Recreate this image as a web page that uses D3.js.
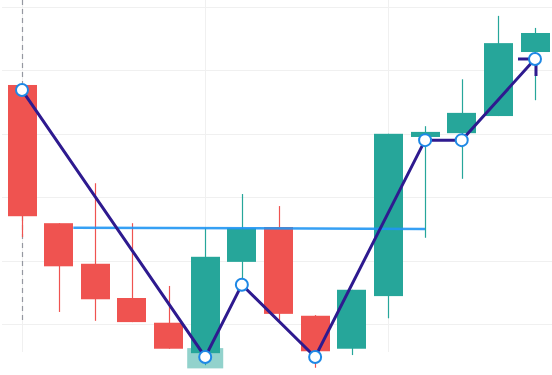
<!DOCTYPE html>
<html>
<head>
<meta charset="utf-8">
<script src="https://cdn.jsdelivr.net/npm/d3@7"></script>
<style>
  html, body { margin: 0; padding: 0; background: #fff; }
  svg { display: block; }
</style>
</head>
<body>
<div id="chart"></div>
<script>
// candles: open / high / low / close
const opens  = [137.7, 115.9, 109.5, 104.1, 100.2, 95.4, 109.8, 115.3, 101.3, 96.1, 104.4, 129.5, 130.1, 132.8, 142.9];
const highs  = [137.7, 115.9, 122.2, 115.9, 106.0, 115.1, 120.5, 118.6, 101.4, 105.4, 130.0, 131.2, 138.6, 148.6, 146.7];
const lows   = [113.7, 101.9, 100.5, 100.3, 96.1, 93.5, 106.2, 100.6, 93.1, 95.1, 100.9, 113.6, 122.9, 132.8, 135.3];
const closes = [117.0, 109.1, 103.9, 100.3, 96.1, 110.6, 115.1, 101.6, 95.7, 105.4, 130.0, 130.3, 133.3, 144.3, 145.9];

// zigzag pivots (index, price)
const pivotIdx = [0, 5, 6, 8, 11, 12, 14];
const pivotVal = [136.9, 94.8, 106.2, 94.8, 129.0, 129.0, 141.8];

// level line
const levelFrom = 1.4, levelTo = 11, levelStart = 115.2, levelEnd = 115.0;

const yTicks = [100, 110, 120, 130, 140, 150];
const xTicks = [0, 5, 10];

const width = 552, height = 375;
const svg = d3.select("#chart").append("svg")
    .attr("width", width)
    .attr("height", height);

const x = d3.scaleLinear().domain([0, 14]).range([22, 535]);
const y = d3.scaleLinear().domain([100, 150]).range([324, 7]);
const bw = 29;

// grid
svg.append("g").selectAll("line").data(yTicks).join("line")
    .attr("x1", 2).attr("x2", width)
    .attr("y1", d => Math.round(y(d)) + 0.5).attr("y2", d => Math.round(y(d)) + 0.5)
    .attr("stroke", "#f0f0f0");
svg.append("g").selectAll("line").data(xTicks).join("line")
    .attr("x1", d => Math.round(x(d)) + 0.5).attr("x2", d => Math.round(x(d)) + 0.5)
    .attr("y1", 0).attr("y2", 352)
    .attr("stroke", "#f0f0f0");

// dashed vertical marker
svg.append("line")
    .attr("x1", x(0) + 0.5).attr("x2", x(0) + 0.5)
    .attr("y1", 0).attr("y2", 322)
    .attr("stroke", "#9598a1")
    .attr("stroke-width", 1.2)
    .attr("stroke-dasharray", "5,4");

// faint highlight under candle 6
svg.append("rect")
    .attr("x", x(5) - 18).attr("width", 36)
    .attr("y", y(96.2)).attr("height", y(93.0) - y(96.2))
    .attr("fill", "#26a69a").attr("opacity", 0.5);

const idx = d3.range(opens.length);
const col = i => closes[i] >= opens[i] ? "#26a69a" : "#ef5350";

// wicks
svg.append("g").selectAll("line").data(idx).join("line")
    .attr("x1", i => Math.round(x(i)) + 0.5).attr("x2", i => Math.round(x(i)) + 0.5)
    .attr("y1", i => y(highs[i])).attr("y2", i => y(lows[i]))
    .attr("stroke", col)
    .attr("stroke-width", 1.2);

// bodies
svg.append("g").selectAll("rect").data(idx).join("rect")
    .attr("x", i => Math.round(x(i) - bw / 2))
    .attr("width", bw)
    .attr("y", i => y(Math.max(opens[i], closes[i])))
    .attr("height", i => Math.max(1, Math.abs(y(opens[i]) - y(closes[i]))))
    .attr("fill", col);

// level line
svg.append("line")
    .attr("x1", x(levelFrom)).attr("x2", x(levelTo))
    .attr("y1", y(levelStart)).attr("y2", y(levelEnd))
    .attr("stroke", "#2196f3")
    .attr("stroke-width", 2.5)
    .attr("opacity", 0.9);

// zigzag
const pts = pivotIdx.map((d, i) => [x(d), y(pivotVal[i])]);
svg.append("path")
    .attr("d", d3.line()(pts))
    .attr("fill", "none")
    .attr("stroke", "#2e1a8f")
    .attr("stroke-width", 3);

// small stubs at the last pivot
const last = pts[pts.length - 1];
svg.append("path")
    .attr("d", d3.line()([[last[0] - 17, last[1]], [last[0], last[1]]]))
    .attr("stroke", "#2e1a8f").attr("stroke-width", 3).attr("fill", "none");
svg.append("path")
    .attr("d", d3.line()([[last[0] + 1, last[1]], [last[0] + 1, last[1] + 17]]))
    .attr("stroke", "#2e1a8f").attr("stroke-width", 3).attr("fill", "none");

// pivot markers
svg.append("g").selectAll("circle").data(pts).join("circle")
    .attr("cx", d => d[0]).attr("cy", d => d[1])
    .attr("r", 6)
    .attr("fill", "#fff")
    .attr("stroke", "#1e88e5")
    .attr("stroke-width", 2);
</script>
</body>
</html>
